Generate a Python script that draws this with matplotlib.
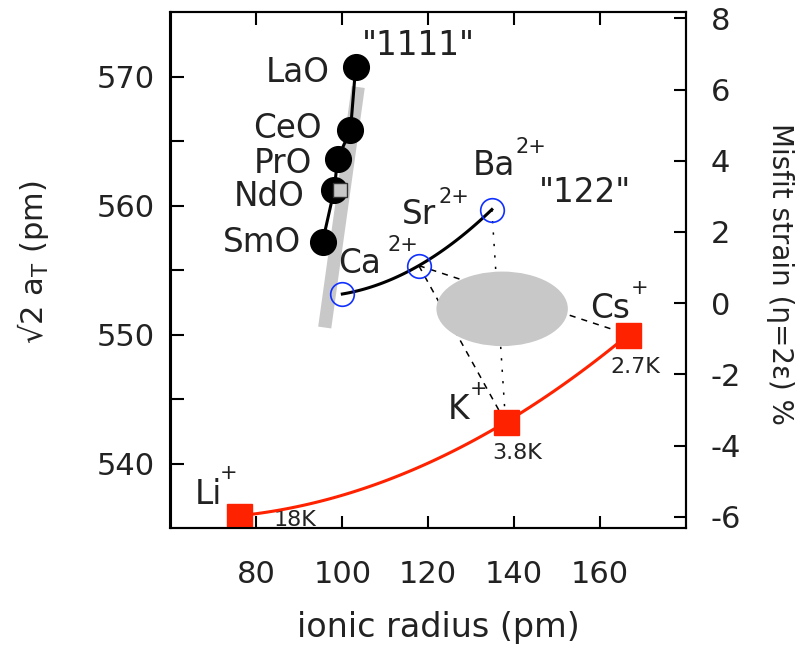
import numpy as np
import matplotlib
matplotlib.use("Agg")
import matplotlib.pyplot as plt
from matplotlib.patches import Ellipse

plt.rcParams['font.family'] = ['DejaVu Sans']
plt.rcParams['mathtext.default'] = 'regular'
plt.rcParams['axes.unicode_minus'] = False

# ---- data ----
labels_1111 = ['LaO', 'CeO', 'PrO', 'NdO', 'SmO']
radius_1111 = [103.1, 101.9, 98.9, 98.1, 95.4]
a_1111 = [570.77, 565.85, 563.65, 561.2, 557.2]

labels_122 = ['Ca', 'Sr', 'Ba']
radius_122 = [100.0, 117.8, 134.8]
a_122 = [553.15, 555.35, 559.7]

labels_111 = ['Li', 'K', 'Cs']
radius_111 = [75.9, 138.0, 166.6]
a_111 = [535.95, 543.2, 550.0]
tc_111 = ['18K', '3.8K', '2.7K']

band_radius = [103.7, 95.9]
band_a = [569.2, 550.55]
nd_square = (99.35, 561.2)

ellipse_center = (137.2, 552.0)
ellipse_size = (30.6, 5.78)

x_ticks = [80, 100, 120, 140, 160]
y_ticks = [540, 550, 560, 570]
y_minor = [545, 555, 565]
strain_ticks = [-6, -4, -2, 0, 2, 4, 6, 8]

W, H = 809, 647
fig = plt.figure(figsize=(W / 100, H / 100), dpi=100)
ax = fig.add_axes([170.5 / W, (H - 528) / H, (686 - 170.5) / W, (528 - 12.3) / H])
ax.set_xlim(60, 180)
ax.set_ylim(535, 575)

# gray band
ax.plot(band_radius, band_a, color='#c8c8c8', lw=9.5, solid_capstyle='butt', zorder=1)

# dashed connectors (behind ellipse)
dk = dict(color='black', lw=1.1, zorder=2)
ax.plot([radius_122[1], radius_111[2]], [a_122[1], a_111[2]], ls=(0, (4, 4)), **dk)
ax.plot([radius_122[1], radius_111[1]], [a_122[1], a_111[1]], ls=(0, (4, 4)), **dk)
ax.plot([radius_122[2], radius_111[1]], [a_122[2], a_111[1]], ls=(0, (1.5, 6)), **dk)

# ellipse
ax.add_patch(Ellipse(ellipse_center, ellipse_size[0], ellipse_size[1],
                     facecolor='#c8c8c8', edgecolor='none', zorder=3))

# 1111
ax.plot(radius_1111, a_1111, color='black', lw=2.2, zorder=4)
ax.plot(radius_1111, a_1111, 'o', color='black', ms=18.5, zorder=5)
ax.plot([nd_square[0]], [nd_square[1]], 's', ms=10, mfc='#c8c8c8', mec='#333333', mew=1.0, zorder=6)

# 122 curve
c = np.polyfit(radius_122, a_122, 2)
xs = np.linspace(radius_122[0], radius_122[-1], 100)
ax.plot(xs, np.polyval(c, xs), color='black', lw=2.2, zorder=4)
ax.plot(radius_122, a_122, 'o', mfc='none', mec='#1030ff', mew=1.2, ms=17, zorder=6)

# 111 curve
c2 = np.polyfit(radius_111, a_111, 2)
xs2 = np.linspace(radius_111[0], radius_111[-1], 100)
ax.plot(xs2, np.polyval(c2, xs2), color='#ff2200', lw=2.2, zorder=4)
ax.plot(radius_111, a_111, 's', color='#ff2200', ms=18, zorder=5)

# texts
big = 23.5
sup = 15
small = 16
tc = '#222222'
ax.text(117.6, 571.68, '"1111"', ha='center', va='baseline', fontsize=big, color=tc)
pos_1111 = [(97.1, 569.58), (95.3, 565.23), (92.9, 562.5), (91.3, 560.0), (90.5, 556.38)]
for lab, (x, y) in zip(labels_1111, pos_1111):
    ax.text(x, y, lab, ha='right', va='baseline', fontsize=big, color=tc)

pos_122 = [(99.0, 554.8), (113.8, 558.6), (130.4, 562.35)]
sup_122 = [(110.4, 556.52), (122.3, 560.17), (140.2, 564.06)]
for lab, (x, y), (sx, sy) in zip(labels_122, pos_122, sup_122):
    ax.text(x, y, lab, ha='left', va='baseline', fontsize=big, color=tc)
    ax.text(sx, sy, '2+', ha='left', va='baseline', fontsize=sup, color=tc)
ax.text(156.5, 560.25, '"122"', ha='center', va='baseline', fontsize=big, color=tc)

pos_111 = [(65.7, 536.85), (124.6, 543.45), (157.65, 551.3)]
sup_111 = [(73.45, 539.28), (131.65, 545.76), (169.3, 553.64)]
for lab, (x, y), (sx, sy) in zip(labels_111, pos_111, sup_111):
    ax.text(x, y, lab, ha='left', va='baseline', fontsize=big, color=tc)
    ax.text(sx, sy, '+', ha='center', va='center', fontsize=sup, color=tc)
pos_tc = [(83.9, 535.13), (134.8, 540.34), (162.3, 547.0)]
for lab, (x, y) in zip(tc_111, pos_tc):
    ax.text(x, y, lab, ha='left', va='baseline', fontsize=small, color=tc)

# axes styling
ax.set_xticks(x_ticks)
ax.set_yticks(y_ticks)
ax.set_yticks(y_minor, minor=True)
ax.tick_params(axis='both', which='both', direction='in', length=9, width=1.5,
               labelsize=22, colors='black', labelcolor=tc)
ax.tick_params(axis='x', top=True, pad=23)
ax.tick_params(axis='y', which='both', right=False, pad=11)
for s in ax.spines.values():
    s.set_linewidth(1.5)

ax2 = ax.twinx()
ax2.set_ylim(-6.317, 8.169)
ax2.set_yticks(strain_ticks)
ax2.tick_params(axis='y', direction='in', length=9, width=1.5, labelsize=22, pad=18, labelcolor=tc)
for s in ax2.spines.values():
    s.set_linewidth(1.5)

fig.text(438 / W, 1 - 627 / H, 'ionic radius (pm)', ha='center', va='center', fontsize=24, color=tc)
fig.text(33 / W, 1 - 262 / H, '√2 a$_\\mathregular{T}$ (pm)', ha='center', va='center',
         rotation=90, fontsize=22, color=tc)
fig.text(780 / W, 1 - 274 / H, 'Misfit strain (η=2ε) %', ha='center', va='center',
         rotation=270, fontsize=20, color=tc)

fig.savefig('out.png', dpi=100, facecolor='white')
